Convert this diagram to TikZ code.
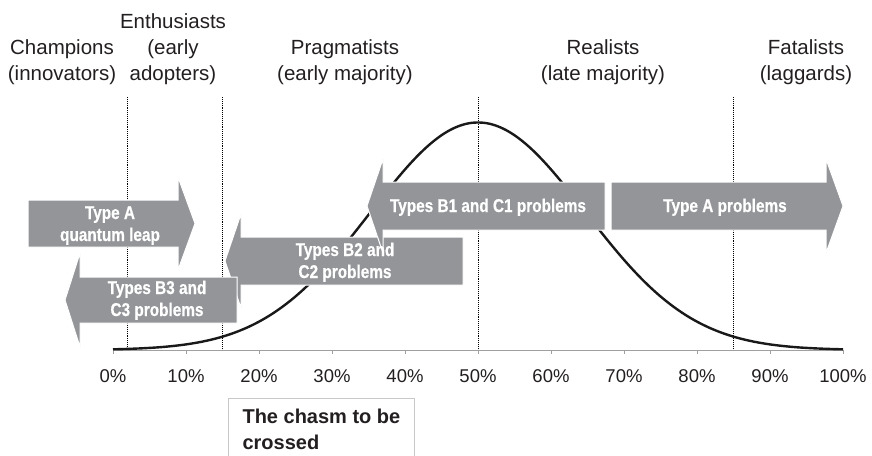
\documentclass[tikz,border=0pt]{standalone}
\usepackage{fontspec}
\setmainfont{Liberation Sans}
\newfontfamily\condbold{Liberation Sans}[FakeStretch=0.83, FakeBold=0.6]
\definecolor{bandgray}{RGB}{147,149,152}
\definecolor{inkgray}{RGB}{35,31,32}
\definecolor{axisgray}{RGB}{160,160,160}
\definecolor{framegray}{RGB}{200,200,200}
\tikzset{
  group/.style={text=inkgray, align=center, anchor=base,
    font=\fontsize{20.5}{26}\selectfont},
  ticklabel/.style={text=inkgray, anchor=base,
    font=\fontsize{18.5}{22}\selectfont},
  divider/.style={black, line width=0.8pt, dash pattern=on 0.8pt off 1.1pt},
  band/.style={fill=bandgray, draw=white, line width=1pt, line join=miter},
  bandtext/.style={text=white, align=center, anchor=base,
    font=\condbold\bfseries\fontsize{18.5}{22}\selectfont},
  curve/.style={black!90, line width=2.4pt},
}
\begin{document}
\begin{tikzpicture}[x=1pt, y=-1pt]
\useasboundingbox (0,0) rectangle (872,455);

% adopter groups (node base = baseline of the last line)
\node[group] (champ) at (62,80.5) {Champions\\(innovators)};
\node[group] (enth) at (173,80.5) {Enthusiasts\\(early\\adopters)};
\node[group] (prag) at (345,80.5) {Pragmatists\\(early majority)};
\node[group] (real) at (603,80.5) {Realists\\(late majority)};
\node[group] (fatal) at (806,80.5) {Fatalists\\(laggards)};

% group boundaries
\foreach \p in {2,15,50,85}
  \draw[divider] ({113+7.3*\p},97) -- ({113+7.3*\p},350);

% axis with ticks and labels
\draw[axisgray, line width=0.9pt] (113,350) -- (843,350);
\foreach \k in {0,...,10} {
  \draw[axisgray, line width=0.9pt] ({113+73*\k},350) -- ({113+73*\k},354);
  \node[ticklabel] (t\k) at ({113+73*\k},382) {\the\numexpr\k*10\relax\%};
}

% normal adoption curve
\draw[curve] plot[domain=0:100, samples=121, smooth]
  ({113+7.3*\x}, {350-227.5*exp(-((\x-50)^2)/(2*14.7*14.7))});

% problem bands
\path[band] (28,200) -- (178,200) -- (178,177) -- (195,223.5) -- (178,270) -- (178,247) -- (28,247) -- cycle;
\path[band] (463,237) -- (241,237) -- (241,214) -- (225,261) -- (241,308) -- (241,285) -- (463,285) -- cycle;
\path[band] (237,277) -- (80,277) -- (80,253) -- (65,300) -- (80,347) -- (80,323) -- (237,323) -- cycle;
\path[band] (605,182) -- (383,182) -- (383,159) -- (367,206) -- (383,253) -- (383,230) -- (605,230) -- cycle;
\path[band] (611,182) -- (826,182) -- (826,159) -- (843,206) -- (826,253) -- (826,230) -- (611,230) -- cycle;

\node[bandtext] (qleap) at (110,241) {Type A\\quantum leap};
\node[bandtext] (bc2) at (345,278) {Types B2 and\\C2 problems};
\node[bandtext] (bc3) at (157,316) {Types B3 and\\C3 problems};
\node[bandtext] (bc1) at (488,212) {Types B1 and C1 problems};
\node[bandtext] (tap) at (725,212) {Type A problems};

% chasm note
\draw[framegray, line width=1pt] (228,470) -- (228,398) -- (414,398) -- (414,470);
\node[text=inkgray, anchor=base west, align=left,
  font=\bfseries\fontsize{20}{26}\selectfont] (chasm) at (239,449) {The chasm to be\\crossed};
\end{tikzpicture}
\end{document}
